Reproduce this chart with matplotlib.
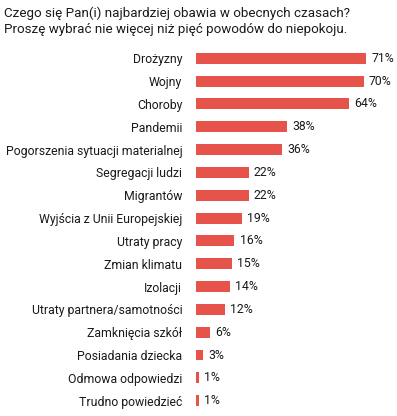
import matplotlib
matplotlib.use("Agg")
import matplotlib.pyplot as plt

categories = ["Drożyzny", "Wojny", "Choroby", "Pandemii", "Pogorszenia sytuacji materialnej",
              "Segregacji ludzi", "Migrantów", "Wyjścia z Unii Europejskiej", "Utraty pracy",
              "Zmian klimatu", "Izolacji", "Utraty partnera/samotności", "Zamknięcia szkół",
              "Posiadania dziecka", "Odmowa odpowiedzi", "Trudno powiedzieć"]
values = [71, 70, 64, 38, 36, 22, 22, 19, 16, 15, 14, 12, 6, 3, 1, 1]
title = "Czego się Pan(i) najbardziej obawia w obecnych czasach?\nProszę wybrać nie więcej niż pięć powodów do niepokoju."

plt.rcParams['font.family'] = ['Roboto', 'DejaVu Sans']
fig = plt.figure(figsize=(3.97, 4.16), dpi=100)
ax = fig.add_axes([0.494, 0.0094, 0.506, 0.878])
bar_color = "#E5534A"
text_color = "#1a1a1a"
ys = list(range(len(categories)))
ax.barh(ys, values, height=0.48, color=bar_color)
ax.set_xlim(0, 84)
ax.set_ylim(15.5, -0.5)
for y, v in zip(ys, values):
    ax.text(v + 2.2, y, f"{v}%", va="center", ha="left", fontsize=8.8, color=text_color)
ax.set_yticks(ys)
ax.set_yticklabels(categories, fontsize=8.8, color=text_color)
ax.tick_params(axis="y", length=0, pad=10)
ax.set_xticks([])
for s in ax.spines.values():
    s.set_visible(False)
fig.text(0.01, 0.985, title, ha="left", va="top", fontsize=9.6, color=text_color, linespacing=1.3)
fig.savefig("out.png", dpi=100)
